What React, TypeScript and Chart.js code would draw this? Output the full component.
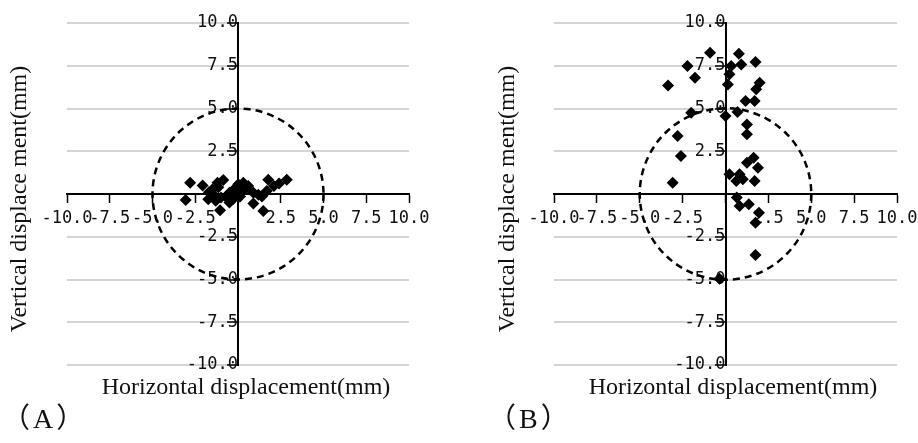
import React, { useEffect, useRef } from "react";
import { Chart, registerables } from "chart.js";

Chart.register(...registerables);

// ---- data ----
const axisTicks = [-10, -7.5, -5, -2.5, 0, 2.5, 5, 7.5, 10];
const circleRadius = 5;

const aX = [-3.06, -2.8, -2.07, -1.7, -1.74, -1.5, -1.44, -1.2, -0.86, -1.05, -1.3, -1.0, -0.5, -0.66, -0.5, -0.2, 0.02, 0.31, 0.6, 0.2, -0.08, 0.12, 0.9, 0.9, 1.19, 1.48, 1.4, 1.68, 1.77, 2.1, 2.4, 2.85, -1.15, 0.45, -0.3];
const aY = [-0.35, 0.66, 0.5, 0.1, -0.31, 0.27, -0.05, 0.66, 0.82, -0.95, -0.4, -0.2, -0.5, -0.2, 0.08, 0.3, 0.57, 0.66, 0.47, 0.15, -0.05, -0.15, 0.08, -0.55, -0.05, -0.99, -0.15, 0.18, 0.83, 0.47, 0.62, 0.83, 0.4, 0.3, -0.3];

const bX = [-3.35, -2.22, -1.78, -0.9, -2.0, 0, -2.79, -2.6, -3.08, -0.35, 0.78, 0.33, 0.92, 0.23, 0.14, 1.75, 1.99, 1.79, 1.17, 1.7, 0.7, 1.25, 1.25, 1.64, 1.25, 1.89, 0.23, 0.82, 1.01, 1.7, 0.63, 0.66, 0.82, 1.36, 1.95, 1.75, 1.75];
const bY = [6.35, 7.49, 6.8, 8.26, 4.75, 4.56, 3.39, 2.22, 0.66, -4.95, 8.2, 7.49, 7.58, 7.0, 6.41, 7.72, 6.51, 6.12, 5.44, 5.44, 4.8, 4.07, 3.49, 2.12, 1.83, 1.54, 1.15, 1.15, 0.86, 0.76, 0.76, -0.21, -0.7, -0.6, -1.09, -1.68, -3.57];

const xTitle = "Horizontal displacement(mm)";
const yTitle = "Vertical displace ment(mm)";

const TICK_FONT = { family: '"DejaVu Sans Mono", "Liberation Mono", monospace', size: 17 };
const TITLE_FONT = '24px "Liberation Serif", "DejaVu Serif", serif';
const LABEL_FONT = '28px "Liberation Serif", "Noto Sans CJK SC", serif';

type PanelProps = {
  xs: number[];
  ys: number[];
  label: string;
  left: number;
  width: number;
  pad: { left: number; right: number; top: number; bottom: number };
  yTitleX: number;
  yTitleY: number;
  xTitleX: number;
  xTitleY: number;
  labelX: number;
  labelY: number;
};

function Panel(p: PanelProps) {
  const ref = useRef<HTMLCanvasElement | null>(null);
  useEffect(() => {
    if (!ref.current) return;
    const circlePlugin = {
      id: "circle",
      beforeDatasetsDraw(chart: any) {
        const { ctx, scales } = chart;
        const cx = scales.x.getPixelForValue(0);
        const cy = scales.y.getPixelForValue(0);
        const r = scales.x.getPixelForValue(circleRadius) - cx;
        ctx.save();
        ctx.strokeStyle = "#000";
        ctx.lineWidth = 2.5;
        ctx.setLineDash([7, 5]);
        ctx.beginPath();
        ctx.arc(cx, cy, r, 0, Math.PI * 2);
        ctx.stroke();
        ctx.restore();
      },
    };
    const textPlugin = {
      id: "panelText",
      afterDraw(chart: any) {
        const { ctx } = chart;
        ctx.save();
        ctx.fillStyle = "#111";
        ctx.font = TITLE_FONT;
        ctx.textAlign = "center";
        ctx.textBaseline = "middle";
        ctx.fillText(xTitle, p.xTitleX, p.xTitleY);
        ctx.save();
        ctx.translate(p.yTitleX, p.yTitleY);
        ctx.rotate(-Math.PI / 2);
        ctx.fillText(yTitle, 0, 0);
        ctx.restore();
        ctx.font = LABEL_FONT;
        ctx.textAlign = "left";
        (ctx as any).letterSpacing = "3px";
        ctx.fillText(p.label, p.labelX, p.labelY);
        ctx.restore();
      },
    };
    const setTicks = (s: any) => {
      s.ticks = axisTicks.map((v) => ({ value: v }));
    };
    const fmt = (v: any) => (Number(v) === 0 ? "" : Number(v).toFixed(1));
    const chart = new Chart(ref.current, {
      type: "scatter",
      data: {
        datasets: [
          {
            data: p.xs.map((x, i) => ({ x, y: p.ys[i] })),
            backgroundColor: "#000",
            borderColor: "#000",
            borderWidth: 0,
            pointStyle: "rectRot",
            pointRadius: 6,
          },
        ],
      },
      options: {
        animation: false,
        responsive: false,
        layout: { padding: p.pad },
        plugins: { legend: { display: false }, tooltip: { enabled: false } },
        scales: {
          x: {
            type: "linear",
            min: -10,
            max: 10,
            position: { y: 0 } as any,
            afterBuildTicks: setTicks,
            grid: { drawOnChartArea: false, tickColor: "#000", tickLength: 8, tickWidth: 1.5 },
            border: { color: "#000", width: 2 },
            ticks: { callback: fmt, autoSkip: false, maxRotation: 0, font: TICK_FONT, color: "#111", padding: 6 },
          },
          y: {
            type: "linear",
            min: -10,
            max: 10,
            position: { x: 0 } as any,
            afterBuildTicks: setTicks,
            grid: { color: "#d4d4d4", lineWidth: 2, tickColor: "#000", tickLength: 10, tickWidth: 1.5 },
            border: { color: "#000", width: 2 },
            ticks: { callback: fmt, autoSkip: false, font: TICK_FONT, color: "#111", padding: 1 },
          },
        },
      },
      plugins: [circlePlugin, textPlugin],
    });
    return () => chart.destroy();
  }, []);
  return (
    <canvas
      ref={ref}
      width={p.width}
      height={443}
      style={{ position: "absolute", left: p.left, top: 0, width: p.width, height: 443 }}
    />
  );
}

export default function App() {
  return (
    <div style={{ position: "absolute", left: 0, top: 0, width: 918, height: 443, background: "#fff", overflow: "hidden" }}>
      <Panel
        xs={aX}
        ys={aY}
        label="（A）"
        left={0}
        width={470}
        pad={{ left: 67, right: 61, top: 23, bottom: 78 }}
        yTitleX={20}
        yTitleY={199}
        xTitleX={246}
        xTitleY={388}
        labelX={2}
        labelY={421}
      />
      <Panel
        xs={bX}
        ys={bY}
        label="（B）"
        left={483}
        width={445}
        pad={{ left: 71, right: 31, top: 23, bottom: 78 }}
        yTitleX={25}
        yTitleY={199}
        xTitleX={250}
        xTitleY={388}
        labelX={5}
        labelY={421}
      />
    </div>
  );
}
